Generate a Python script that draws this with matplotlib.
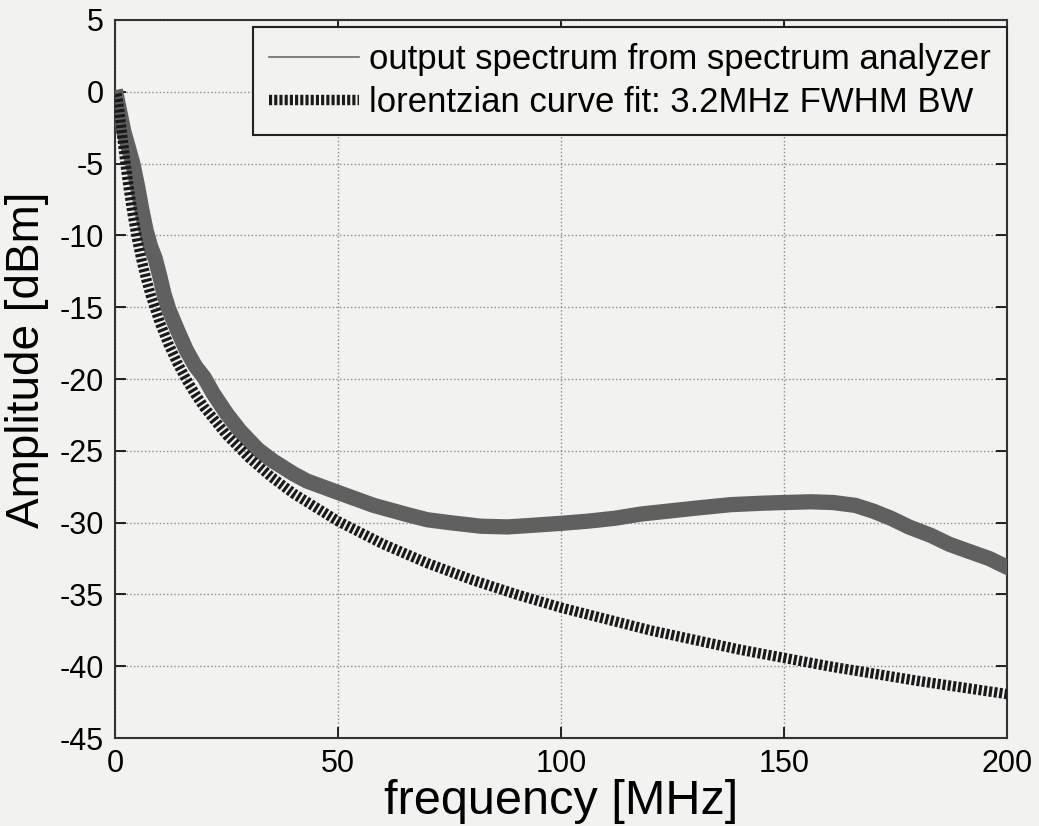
import matplotlib
matplotlib.use('Agg')
import matplotlib.pyplot as plt
from matplotlib.lines import Line2D

spec_freq = [0.4, 1, 2, 3, 4, 5, 6, 7, 8, 9, 10, 11, 12, 14, 16, 18, 20, 22, 25,
             28, 32, 35.4, 40, 43, 50, 58, 65, 70, 75, 82, 88, 93, 100, 106, 112,
             118, 124, 130, 138, 145, 150, 156, 161, 166, 170, 174, 178, 183, 187,
             191, 196, 200]
spec_amp = [-0.4, -1.3, -2.8, -3.9, -5.0, -6.5, -8.2, -9.7, -10.8, -11.6, -12.8,
            -14.1, -15.1, -16.6, -18.0, -19.1, -19.9, -21.0, -22.4, -23.6, -24.9,
            -25.7, -26.6, -27.1, -27.9, -28.8, -29.4, -29.8, -30.0, -30.25, -30.3,
            -30.2, -30.05, -29.9, -29.7, -29.4, -29.2, -29.0, -28.75, -28.65, -28.6,
            -28.55, -28.6, -28.8, -29.2, -29.7, -30.3, -30.9, -31.5, -31.95, -32.5,
            -33.1]

# lorentzian fit curve
fit_freq = [0.3, 0.5, 1, 1.5, 2, 2.5, 3, 4, 5, 6, 7, 8, 10, 12, 14, 16, 18, 20, 25,
            30, 35, 40, 50, 60, 70, 80, 90, 100, 120, 140, 160, 180, 200]
fit_amp = [-0.15, -0.40, -1.43, -2.74, -4.09, -5.37, -6.55, -8.60, -10.32, -11.78,
           -13.04, -14.15, -16.03, -17.58, -18.90, -20.04, -21.06, -21.97, -23.89,
           -25.47, -26.81, -27.97, -29.90, -31.48, -32.82, -33.98, -35.00, -35.92,
           -37.50, -38.84, -40.00, -41.02, -41.94]

x_ticks = [0, 50, 100, 150, 200]
y_ticks = [-45, -40, -35, -30, -25, -20, -15, -10, -5, 0, 5]

plt.rcParams['font.family'] = ['Liberation Sans', 'DejaVu Sans']
plt.rcParams['axes.unicode_minus'] = False
bg = '#f2f2f0'

fig = plt.figure(figsize=(10.39, 8.26), dpi=100, facecolor=bg)
ax = fig.add_axes([0.1107, 0.1065, 0.8585, 0.8693], facecolor=bg)

# spectrum drawn as a thick band, fit as a heavy dotted line
ax.plot(spec_freq, spec_amp, color='#606060', lw=11, solid_joinstyle='round', zorder=3)
ax.plot(fit_freq, fit_amp, color='#1a1a1a', lw=7.5, dashes=(0.3, 0.2),
        dash_capstyle='butt', zorder=4)

ax.set_xlim(0, 200)
ax.set_ylim(-45, 5)
ax.set_xticks(x_ticks)
ax.set_yticks(y_ticks)
ax.grid(True, linestyle=':', color='#8a8a8a', lw=1)
ax.tick_params(direction='in', length=8, width=1.2, top=True, right=True,
               labelsize=22, pad=8)
for s in ax.spines.values():
    s.set_linewidth(1.5)
    s.set_color('#333333')

ax.set_xlabel('frequency [MHz]', fontsize=35, labelpad=0)
ax.set_ylabel('Amplitude [dBm]', fontsize=33)
ax.yaxis.set_label_coords(-0.074, 0.527)

handles = [Line2D([], [], color='#6a6a6a', lw=1.2),
           Line2D([], [], color='#1a1a1a', lw=7.5, dashes=(0.3, 0.2), dash_capstyle='butt')]
leg = ax.legend(handles, ['output spectrum from spectrum analyzer',
                          'lorentzian curve fit: 3.2MHz FWHM BW'],
                loc='upper right', bbox_to_anchor=(1.0, 0.99), borderaxespad=0,
                fontsize=25, fancybox=False, framealpha=1, facecolor=bg,
                edgecolor='#222222', handlelength=2.6, handletextpad=0.3,
                borderpad=0.45, labelspacing=0.3)
leg.get_frame().set_linewidth(1.5)

fig.savefig('out.png', dpi=100, facecolor=bg)
